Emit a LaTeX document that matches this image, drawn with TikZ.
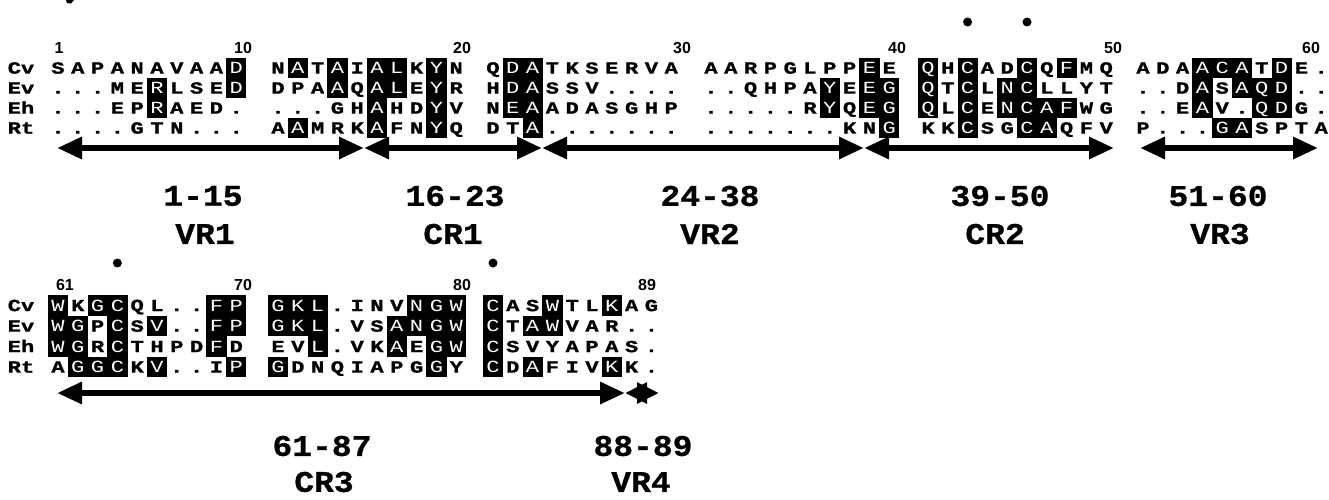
\documentclass[tikz,border=0pt]{standalone}
\usepackage{fontspec}
\usetikzlibrary{arrows.meta}
\newfontfamily\resfont[FakeStretch=1.3, BoldFeatures={FakeBold=1.2}]{Liberation Mono}
\newfontfamily\numfont{Liberation Sans}
\newfontfamily\labfont[FakeStretch=1.1, BoldFeatures={FakeBold=0.8}]{Liberation Mono}

\newcount\cc
\newcount\cbase
\def\endrowmark{\endrowmark}
\def\parserow#1{%
  \ifx#1\endrowmark\else
    \global\advance\cc by 1
    \pgfmathsetmacro\xx{{58,278,493,711,928,1143}[int(floor((\the\cc-\the\cbase-1)/10))]+mod(\the\cc-\the\cbase-1,10)*19.8}%
    \ifnum`#1>96
      \node[hl] (\rowname-\the\cc) at (\xx,\rowy) {\uppercase{#1}};%
    \else
      \node[pl] (\rowname-\the\cc) at (\xx,\rowy) {#1};%
    \fi
    \expandafter\parserow
  \fi}
\newcommand\seqrow[3]{%
  \def\rowname{#1}\def\rowy{#2}\global\cc=\cbase\relax
  \node[rowlab] (#1-lab\the\cbase) at (21,#2) {#1};%
  \parserow#3\endrowmark}

\tikzset{
  pl/.style={font=\resfont\bfseries\fontsize{17}{17}\selectfont, inner sep=0pt,
    text height=11.2pt, text depth=0pt},
  hl/.style={pl, font=\resfont\fontsize{17}{17}\selectfont, fill=black, text=white,
    minimum width=20.2pt, minimum height=20.8pt},
  rowlab/.style={font=\resfont\bfseries\fontsize{17}{17}\selectfont, inner sep=0pt,
    text height=11.2pt, text depth=0pt},
  num/.style={font=\numfont\bfseries\fontsize{16}{16}\selectfont, inner sep=0pt},
  dotc/.style={circle, fill=black, inner sep=0pt, minimum size=9pt},
  rng/.style={line width=6pt, {Triangle[length=25pt,width=21pt]}-{Triangle[length=25pt,width=21pt]}},
  rngs/.style={line width=6pt, {Triangle[length=22pt,width=20pt]}-{Triangle[length=22pt,width=20pt]}},
  rlab/.style={font=\labfont\bfseries\fontsize{30}{30}\selectfont, inner sep=0pt},
}

\begin{document}
\begin{tikzpicture}[x=1pt,y=-1pt]
\fill[white] (0,0) rectangle (1329,499);
\useasboundingbox (0,0) rectangle (1329,499);
% fragment of a cut-off letter at the top edge
\fill (66,0) -- (74,0) -- (71,3.5) -- (67,3) -- cycle;

% ---------- first block: residues 1-60 ----------
\global\cbase=0
\seqrow{Cv}{68}{SAPANAVAAd NaTaIalKyN QdaTKSERVA AARPGLPPeE qHcADcQfMQ ADAacaTdE.}
\seqrow{Ev}{88}{...MErLSEd DPAaQalEyR HdaSSV.... ..QHPAyEeg qTcLncLLYT ..DaSaqd..}
\seqrow{Eh}{108}{...EPrAED. ...GHaHDyV NeaADASGHP .....RyQeg qLcEncafWG ..EaV.qdG.}
\seqrow{Rt}{128}{....GTN... AaMRKaFNyQ DTa....... .......KNg KKcSGcaQFV P...gaSPTA}

\node[num] (n1) at (59,47.5) {1};
\node[num] (n10) at (243,47.5) {10};
\node[num] (n20) at (462,47.5) {20};
\node[num] (n30) at (682,47.5) {30};
\node[num] (n40) at (897,47.5) {40};
\node[num] (n50) at (1113,47.5) {50};
\node[num] (n60) at (1311,47.5) {60};

\node[dotc] (d43) at (Cv-43 |- 0,22) {};
\node[dotc] (d46) at (Cv-46 |- 0,22) {};

\coordinate (t0) at (57,148);
\coordinate (t1) at (364,148);
\coordinate (t2) at (542,148);
\coordinate (t3) at (864,148);
\coordinate (t4) at (1114,148);
\coordinate (t5) at (1140,148);
\coordinate (t6) at (1318,148);
\draw[rng] (t0) -- (t1);
\draw[rng] (t1) -- (t2);
\draw[rng] (t2) -- (t3);
\draw[rng] (t3) -- (t4);
\draw[rng] (t5) -- (t6);

\node[rlab] (r1) at (203,196) {1-15};
\node[rlab] (r2) at (455,196) {16-23};
\node[rlab] (r3) at (710,196) {24-38};
\node[rlab] (r4) at (1000,196) {39-50};
\node[rlab] (r5) at (1218,196) {51-60};
\node[rlab] (g1) at (205,234) {VR1};
\node[rlab] (g2) at (453,234) {CR1};
\node[rlab] (g3) at (710,234) {VR2};
\node[rlab] (g4) at (995,234) {CR2};
\node[rlab] (g5) at (1220,234) {VR3};

% ---------- second block: residues 61-89 ----------
\global\cbase=60
\seqrow{Cv}{305.5}{wKgcQL..fp gkl.INVngw cASwTLkAG}
\seqrow{Ev}{326}{wgPcSv..fp gkl.VSangw cTawVAR..}
\seqrow{Eh}{346.5}{wgRcTHPDfD EVl.VKaEgw cSVYAPAS.}
\seqrow{Rt}{367}{AggcKv..Ip gDNQIAPGgY cDaFIVkK.}

\node[num] (n61) at (65,285) {61};
\node[num] (n70) at (243,285) {70};
\node[num] (n80) at (462,285) {80};
\node[num] (n89) at (647,285) {89};

\node[dotc] (d64) at (Cv-64 |- 0,263) {};
\node[dotc] (d81) at (Cv-81 |- 0,263) {};

\coordinate (b0) at (57,393);
\coordinate (b1) at (625,393);
\coordinate (b2) at (659,393);
\draw[rng] (b0) -- (b1);
\draw[rngs] (b1) -- (b2);

\node[rlab] (r6) at (322,446) {61-87};
\node[rlab] (r7) at (643,446) {88-89};
\node[rlab] (g6) at (324,482) {CR3};
\node[rlab] (g7) at (641,482) {VR4};
\end{tikzpicture}
\end{document}
